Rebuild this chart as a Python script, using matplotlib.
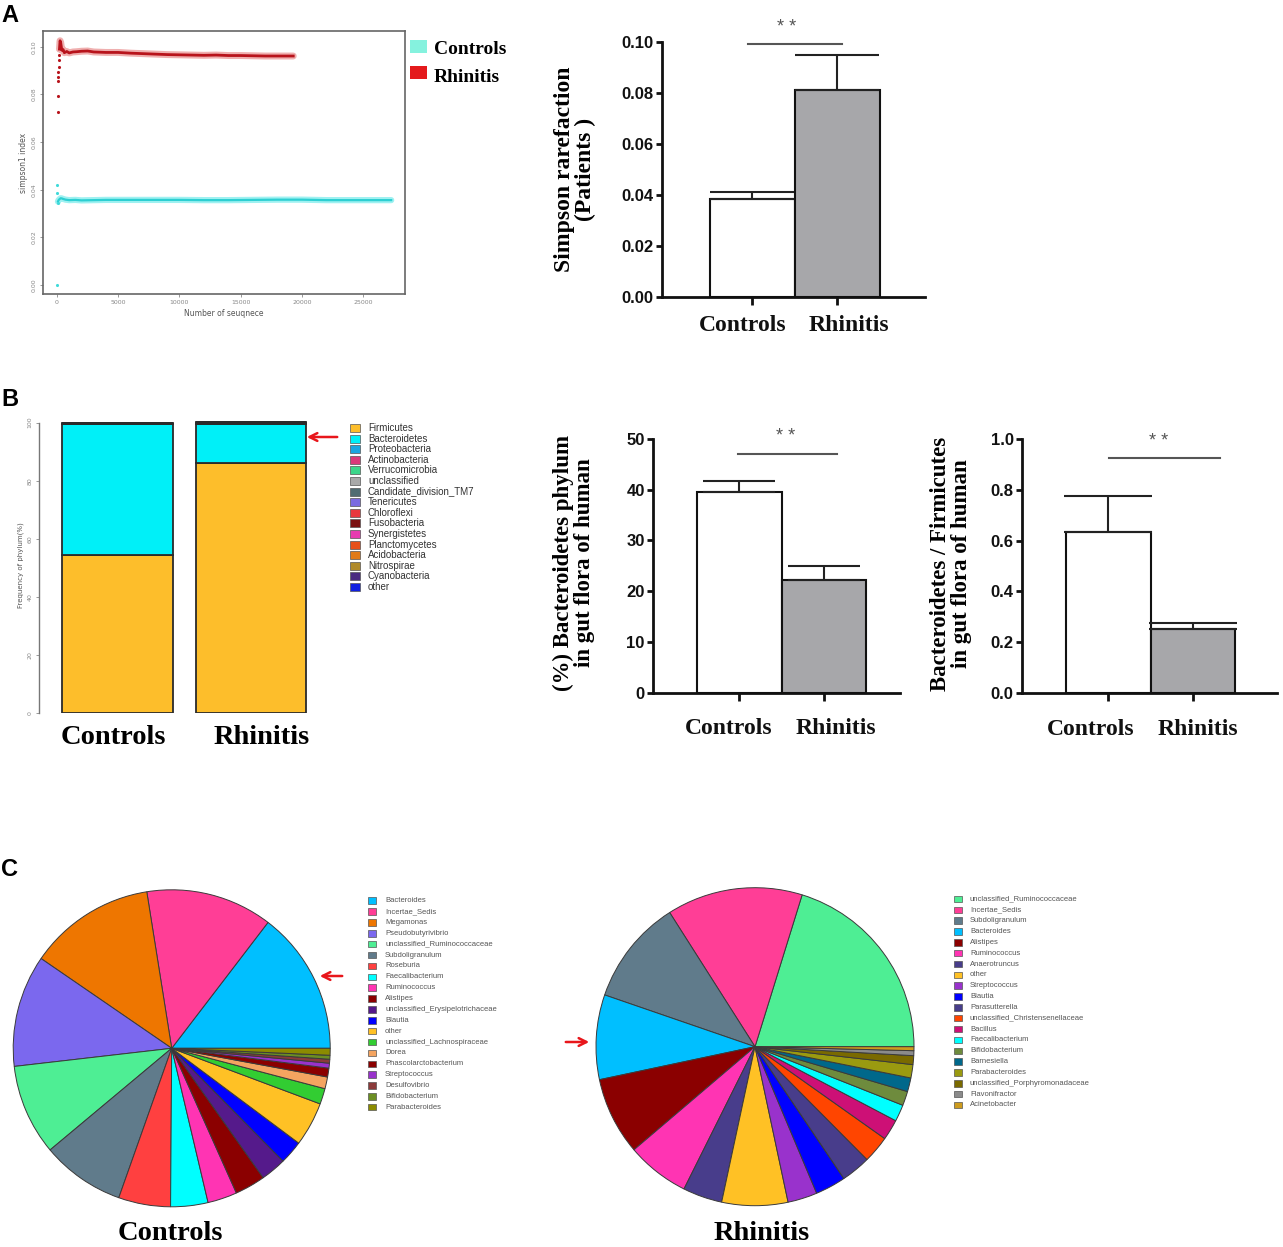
import matplotlib
matplotlib.use('Agg')
import matplotlib.pyplot as plt
from matplotlib.patches import Rectangle, FancyArrowPatch
from matplotlib.transforms import ScaledTranslation

W, H = 1283, 1247
SERIF = 'Liberation Serif'
SANS = 'Liberation Sans'

# ---------------- data ----------------
groups = ['Controls', 'Rhinitis']

# A left: Simpson rarefaction curves
ctrl_early_x = [0, 30, 40, 60]
ctrl_early_y = [0.0000, 0.0420, 0.0385, 0.0342]
ctrl_x = [80, 120, 200, 300, 400, 500, 700, 1000, 1500, 2000, 3000, 4000, 5000, 6000,
          7000, 8000, 10000, 12000, 14000, 16000, 18000, 20000, 21000, 22000, 24000, 26000, 27300]
ctrl_y = [0.0350, 0.0355, 0.0360, 0.0364, 0.0363, 0.0361, 0.0358, 0.0356, 0.0357, 0.0355,
          0.0356, 0.0357, 0.0357, 0.0357, 0.0357, 0.0357, 0.0357, 0.0356, 0.0356, 0.0357,
          0.0358, 0.0358, 0.0357, 0.0356, 0.0356, 0.0356, 0.0356]
rhin_early_x = [50, 50, 80, 100, 120, 150, 170, 190]
rhin_early_y = [0.0724, 0.0794, 0.0856, 0.0875, 0.0895, 0.0916, 0.0944, 0.0965]
rhin_x = [200, 250, 300, 350, 400, 500, 600, 800, 1000, 1300, 1600, 2000, 2500, 3000, 4000,
          5000, 6000, 7000, 8000, 9000, 10000, 11000, 12000, 13000, 14000, 15000, 16000,
          17000, 18000, 19300]
rhin_y = [0.0990, 0.1025, 0.1018, 0.1000, 0.0985, 0.0988, 0.0975, 0.0980, 0.0974, 0.0978,
          0.0979, 0.0981, 0.0982, 0.0978, 0.0976, 0.0976, 0.0973, 0.0971, 0.0969, 0.0967,
          0.0966, 0.0965, 0.0964, 0.0965, 0.0963, 0.0963, 0.0962, 0.0961, 0.0961, 0.0961]
rare_xticks = [0, 5000, 10000, 15000, 20000, 25000]
rare_yticks = [0.00, 0.02, 0.04, 0.06, 0.08, 0.10]

# A right: Simpson bar chart
simpson_mean = [0.0385, 0.0812]
simpson_err = [0.0025, 0.0134]

# B left: phylum composition (%)
phyla = ['Firmicutes', 'Bacteroidetes', 'Proteobacteria', 'Actinobacteria', 'Verrucomicrobia',
         'unclassified', 'Candidate_division_TM7', 'Tenericutes', 'Chloroflexi', 'Fusobacteria',
         'Synergistetes', 'Planctomycetes', 'Acidobacteria', 'Nitrospirae', 'Cyanobacteria', 'other']
phyla_colors = ['#FDBE2B', '#00F0F8', '#1AA6E0', '#D93A7A', '#3CD68A', '#A9A9A9', '#4F6B72',
                '#7A6AE0', '#E8383D', '#7A1010', '#E83AB0', '#E8501A', '#E07A18', '#B08A2A',
                '#4A2A80', '#1020E0']
phyla_controls = [54.5, 45.0, 0.20, 0.05, 0.05, 0.05, 0.03, 0.03, 0.01, 0.01, 0.01, 0.01, 0.01, 0.01, 0.01, 0.02]
phyla_rhinitis = [86.0, 13.7, 0.20, 0.10, 0.05, 0.05, 0.03, 0.02, 0.01, 0.01, 0.01, 0.01, 0.01, 0.01, 0.01, 0.02]
freq_yticks = [0, 20, 40, 60, 80, 100]

# B middle / right
bact_mean = [39.5, 22.3]
bact_err = [2.3, 2.7]
ratio_mean = [0.633, 0.253]
ratio_err = [0.143, 0.021]

# C: genus pies (%)
genus_ctrl = ['Bacteroides', 'Incertae_Sedis', 'Megamonas', 'Pseudobutyrivibrio',
              'unclassified_Ruminococcaceae', 'Subdoligranulum', 'Roseburia', 'Faecalibacterium',
              'Ruminococcus', 'Alistipes', 'unclassified_Erysipelotrichaceae', 'Blautia', 'other',
              'unclassified_Lachnospiraceae', 'Dorea', 'Phascolarctobacterium', 'Streptococcus',
              'Desulfovibrio', 'Bifidobacterium', 'Parabacteroides']
pct_ctrl = [14.6, 12.9, 12.9, 11.4, 9.25, 8.5, 5.3, 3.8, 3.0, 3.1, 2.6, 2.4, 4.5, 1.6, 1.2,
            0.9, 0.5, 0.4, 0.4, 0.7]
col_ctrl = ['#00BFFF', '#FF3E96', '#EE7600', '#7B68EE', '#4EEE94', '#607B8B', '#FF4040',
            '#00FFFF', '#FF34B3', '#8B0000', '#551A8B', '#0000FF', '#FFC125', '#32CD32',
            '#F4A460', '#8B0000', '#9932CC', '#8B3A3A', '#6B8E23', '#8B8B00']
genus_rhin = ['unclassified_Ruminococcaceae', 'Incertae_Sedis', 'Subdoligranulum', 'Bacteroides',
              'Alistipes', 'Ruminococcus', 'Anaerotruncus', 'other', 'Streptococcus', 'Blautia',
              'Parasutterella', 'unclassified_Christensenellaceae', 'Bacillus', 'Faecalibacterium',
              'Bifidobacterium', 'Barnesiella', 'Parabacteroides',
              'unclassified_Porphyromonadaceae', 'Flavonifractor', 'Acinetobacter']
pct_rhin = [20.2, 13.8, 10.7, 8.6, 7.9, 6.4, 4.0, 6.7, 3.0, 3.1, 3.0, 2.75, 2.1, 1.7, 1.45,
            1.4, 1.35, 0.9, 0.5, 0.4]
col_rhin = ['#4EEE94', '#FF3E96', '#607B8B', '#00BFFF', '#8B0000', '#FF34B3', '#483D8B',
            '#FFC125', '#9932CC', '#0000FF', '#483D8B', '#FF4500', '#CD1076', '#00FFFF',
            '#6E8B3D', '#00688B', '#9A9A10', '#7A6A00', '#8B8B8B', '#CD9B1D']

# ---------------- figure ----------------
fig = plt.figure(figsize=(W / 100, H / 100), dpi=100)


def fx(x):
    return x / W


def fy(y):
    return 1 - y / H


def axes_px(l, t, r, b):
    return fig.add_axes([fx(l), fy(b), (r - l) / W, (b - t) / H])


def ftext(x, y, s, **kw):
    return fig.text(fx(x), fy(y), s, **kw)


def arrow(x0, y0, x1, y1):
    fig.add_artist(FancyArrowPatch((fx(x0), fy(y0)), (fx(x1), fy(y1)), transform=fig.transFigure,
                                   arrowstyle='->', mutation_scale=14, color='#E8161B', lw=1.8))


def legend_block(names, colors, x_sq, x_txt, y0, dy, sq_w, sq_h, fs, tcolor):
    for i, (n, c) in enumerate(zip(names, colors)):
        y = y0 + i * dy
        fig.add_artist(Rectangle((fx(x_sq), fy(y + sq_h / 2)), sq_w / W, sq_h / H,
                                 transform=fig.transFigure, facecolor=c, edgecolor='#555', lw=0.5))
        ftext(x_txt, y, n, fontsize=fs, color=tcolor, va='center', ha='left', family=SANS)


# panel letters
ftext(1, 16, 'A', fontsize=17, fontweight='bold', family=SANS, va='center')
ftext(1, 399, 'B', fontsize=17, fontweight='bold', family=SANS, va='center')
ftext(1, 869, 'C', fontsize=17, fontweight='bold', family=SANS, va='center')

# ---- A left: rarefaction ----
ax = axes_px(43, 31, 405, 294)
ax.plot(ctrl_x, ctrl_y, color='#5FE8E8', lw=4.5, alpha=0.6, solid_capstyle='round')
ax.plot(ctrl_x, ctrl_y, color='#2CCFD2', lw=1.6)
ax.scatter(ctrl_early_x, ctrl_early_y, s=5, color='#40DADA', zorder=3, linewidths=0)
ax.plot(rhin_x, rhin_y, color='#E06060', lw=5, alpha=0.5, solid_capstyle='round')
ax.plot(rhin_x, rhin_y, color='#B8141C', lw=2.0)
ax.scatter(rhin_early_x, rhin_early_y, s=5, color='#B8141C', zorder=3, linewidths=0)
ax.set_xlim(-1144, 28430)
ax.set_ylim(-0.0038, 0.1066)
ax.set_xticks(rare_xticks)
ax.set_xticklabels([str(v) for v in rare_xticks])
ax.set_yticks(rare_yticks)
ax.set_yticklabels(['%.2f' % v for v in rare_yticks], rotation=90, va='center')
for s in ax.spines.values():
    s.set_color('#666')
    s.set_linewidth(1.2)
ax.tick_params(labelsize=4.5, colors='#888', length=2.5, width=0.6, pad=2)
ax.set_xlabel('Number of seuqnece', fontsize=5.5, color='#555', labelpad=3)
ax.set_ylabel('simpson1 index', fontsize=5.5, color='#555', labelpad=3)

# legend A
fig.add_artist(Rectangle((fx(410), fy(53)), 17 / W, 13 / H, transform=fig.transFigure,
                         facecolor='#85F2DE', edgecolor='none'))
fig.add_artist(Rectangle((fx(410), fy(79)), 17 / W, 13 / H, transform=fig.transFigure,
                         facecolor='#E41A1C', edgecolor='none'))
ftext(434, 49, groups[0], fontsize=14, fontweight='bold', family=SERIF, va='center')
ftext(434, 77, groups[1], fontsize=14, fontweight='bold', family=SERIF, va='center')


def graphpad_bar(ax, means, errs, ylim, yticks, ylabels, capsize, xpad, offsets):
    ax.bar([0, 1], means, width=1.0, color=['white', '#A7A7AA'], edgecolor='#111', lw=1.5, zorder=2)
    ax.errorbar([0, 1], means, yerr=[[0, 0], errs], fmt='none', ecolor='#222', elinewidth=1.5,
                capsize=capsize, capthick=1.5, zorder=3)
    ax.set_ylim(*ylim)
    ax.set_yticks(yticks)
    ax.set_yticklabels(ylabels, fontsize=12, fontweight='bold', family=SANS)
    ax.set_xticks([0, 1])
    ax.set_xticklabels(groups, fontsize=17, fontweight='bold', family=SERIF)
    for sp in ['top', 'right']:
        ax.spines[sp].set_visible(False)
    for sp in ['left', 'bottom']:
        ax.spines[sp].set_linewidth(2)
        ax.spines[sp].set_color('#111')
    ax.tick_params(axis='y', length=4.5, width=2, pad=1.5, colors='#111')
    ax.tick_params(axis='x', length=6, width=2, pad=xpad, colors='#111')
    for lbl, dx in zip(ax.get_xticklabels(), offsets):
        lbl.set_transform(lbl.get_transform() + ScaledTranslation(dx / 100, 0, fig.dpi_scale_trans))


# ---- A right ----
ax = axes_px(662, 41.7, 925, 296.7)
graphpad_bar(ax, simpson_mean, simpson_err, (0, 0.10), [0, 0.02, 0.04, 0.06, 0.08, 0.10],
             ['0.00', '0.02', '0.04', '0.06', '0.08', '0.10'], 30, 7.5, [-10, 11])
ax.set_xlim(-1.065, 2.03)
ax.plot([-0.053, 1.053], [0.0992, 0.0992], color='#555', lw=1.5, clip_on=False)
ax.text(0.4, 0.1055, '* *', ha='center', va='center', fontsize=13, color='#555', family=SANS)
ftext(575, 169, 'Simpson rarefaction\n(Patients )', rotation=90, ha='center', va='center',
      multialignment='center', fontsize=17, fontweight='bold', family=SERIF, linespacing=1.0)

# ---- B left: stacked ----
ax = axes_px(39, 418, 310, 713)
bottoms = [0.0, 0.0]
for name, c_val, r_val, col in zip(phyla, phyla_controls, phyla_rhinitis, phyla_colors):
    ax.bar([0, 1], [c_val, r_val], bottom=bottoms, width=0.827, color=col,
           edgecolor='#2a2a2a', lw=1.3)
    bottoms = [bottoms[0] + c_val, bottoms[1] + r_val]
ax.set_xlim(-0.59, 1.447)
ax.set_ylim(0, 101.6)
for sp in ['top', 'right', 'bottom']:
    ax.spines[sp].set_visible(False)
ax.spines['left'].set_bounds(0, 100)
ax.spines['left'].set_color('#777')
ax.spines['left'].set_linewidth(1.0)
ax.set_xticks([])
ax.set_yticks(freq_yticks)
ax.set_yticklabels([str(v) for v in freq_yticks], rotation=90, va='center')
ax.tick_params(axis='y', labelsize=4.5, colors='#888', length=2.5, width=0.6, pad=2)
ax.set_ylabel('Frequency of phylum(%)', fontsize=5, color='#555', labelpad=3)
ftext(113, 738, groups[0], fontsize=20.5, fontweight='bold', family=SERIF, ha='center', va='center')
ftext(262, 738, groups[1], fontsize=20.5, fontweight='bold', family=SERIF, ha='center', va='center')
legend_block(phyla, phyla_colors, 350, 368, 428, 10.6, 10, 8, 7, '#333')
arrow(340, 437, 304, 437)

# ---- B middle ----
ax = axes_px(653, 439, 900, 692.7)
graphpad_bar(ax, bact_mean, bact_err, (0, 50), [0, 10, 20, 30, 40, 50],
             ['0', '10', '20', '30', '40', '50'], 26, 12.5, [-10.5, 12])
ax.set_xlim(-1.02, 1.9)
ax.plot([-0.02, 1.15], [47, 47], color='#555', lw=1.5, clip_on=False)
ax.text(0.55, 50.4, '* *', ha='center', va='center', fontsize=13, color='#555', family=SANS)
ftext(574, 563, '(%) Bacteroidetes phylum\nin gut flora of human', rotation=90, ha='center',
      va='center', multialignment='center', fontsize=16.5, fontweight='bold', family=SERIF,
      linespacing=1.0)

# ---- B right ----
ax = axes_px(1022, 439, 1277, 693)
graphpad_bar(ax, ratio_mean, ratio_err, (0, 1.0), [0, 0.2, 0.4, 0.6, 0.8, 1.0],
             ['0.0', '0.2', '0.4', '0.6', '0.8', '1.0'], 32, 12.5, [-18, 5])
ax.set_xlim(-1.018, 1.99)
ax.plot([0.01, 1.32], [0.926, 0.926], color='#555', lw=1.5, clip_on=False)
ax.text(0.59, 0.989, '* *', ha='center', va='center', fontsize=13, color='#555', family=SANS)
ftext(951, 564, 'Bacteroidetes / Firmicutes\nin gut flora of human', rotation=90, ha='center',
      va='center', multialignment='center', fontsize=16.5, fontweight='bold', family=SERIF,
      linespacing=1.0)

# ---- C pies ----
def pie_at(cx, cy, r, vals, cols):
    a = axes_px(cx - 162, cy - 162, cx + 162, cy + 162)
    a.pie(vals, colors=cols, startangle=0, counterclock=True, radius=r / 162,
          wedgeprops=dict(edgecolor='#3a3a3a', linewidth=0.7))
    a.set_xlim(-1, 1)
    a.set_ylim(-1, 1)
    a.set_aspect('equal')
    a.axis('off')


pie_at(171.7, 1048.3, 158.5, pct_ctrl, col_ctrl)
pie_at(755, 1046.7, 159, pct_rhin, col_rhin)
legend_block(genus_ctrl, col_ctrl, 368, 385, 900.7, 10.87, 8, 6.5, 5.5, '#555')
legend_block(genus_rhin, col_rhin, 954, 970, 899, 10.84, 8, 6.5, 5.5, '#555')
arrow(345, 976, 317, 976)
arrow(563, 1042, 592, 1042)
ftext(170, 1240, groups[0], fontsize=20.5, fontweight='bold', family=SERIF, ha='center', va='baseline')
ftext(762, 1240, groups[1], fontsize=20.5, fontweight='bold', family=SERIF, ha='center', va='baseline')

fig.savefig('out.png', dpi=100)
